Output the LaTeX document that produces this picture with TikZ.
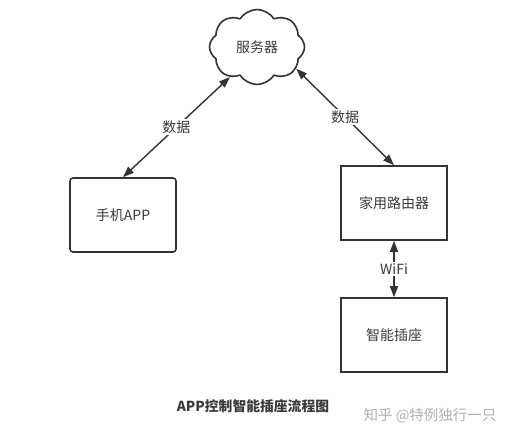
\documentclass[tikz,border=0pt]{standalone}
\usepackage{fontspec}
\setmainfont{Noto Sans CJK SC}
\usetikzlibrary{shapes.symbols,arrows.meta}
\definecolor{ink}{HTML}{333333}
\definecolor{txt}{HTML}{3A3A3A}
\definecolor{wm}{HTML}{B0B0B0}
\begin{document}
\begin{tikzpicture}[x=1pt,y=-1pt,
  box/.style={draw=ink,line width=1.6pt,minimum width=106pt,minimum height=74pt,inner sep=0pt,font=\fontsize{14}{16}\selectfont,text=txt},
  rbox/.style={box,rounded corners=3pt},
  link/.style={draw=ink,line width=1.4pt,{Triangle[length=11pt,width=8pt]}-{Triangle[length=11pt,width=8pt]}},
  lbl/.style={fill=white,inner sep=1.5pt,font=\fontsize{14}{16}\selectfont,text=txt}]
\useasboundingbox (0,0) rectangle (513,439);
\node[cloud,cloud puffs=8,cloud puff arc=115,cloud ignores aspect,draw=ink,line width=1.6pt,
  minimum width=95pt,minimum height=75pt,inner sep=0pt,font=\fontsize{14}{16}\selectfont,text=txt] (srv) at (257,47) {服务器};
\node[rbox] (app) at (123,215) {手机APP};
\node[box] (rt) at (394,203) {家用路由器};
\node[box] (plug) at (394,335) {智能插座};
\draw[link] (app.north) -- node[lbl]{数据} (srv.-132);
\draw[link] (srv.-29) -- node[lbl]{数据} (rt.north);
\draw[link] (rt.south) -- node[lbl]{WiFi} (plug.north);
\node[font=\bfseries\fontsize{13.8}{16}\selectfont,text=txt] (title) at (253,406) {APP控制智能插座流程图};
\node[font=\fontsize{14.5}{17}\selectfont,text=wm] (mark) at (430,416) {知乎 @特例独行一只};
\end{tikzpicture}
\end{document}
